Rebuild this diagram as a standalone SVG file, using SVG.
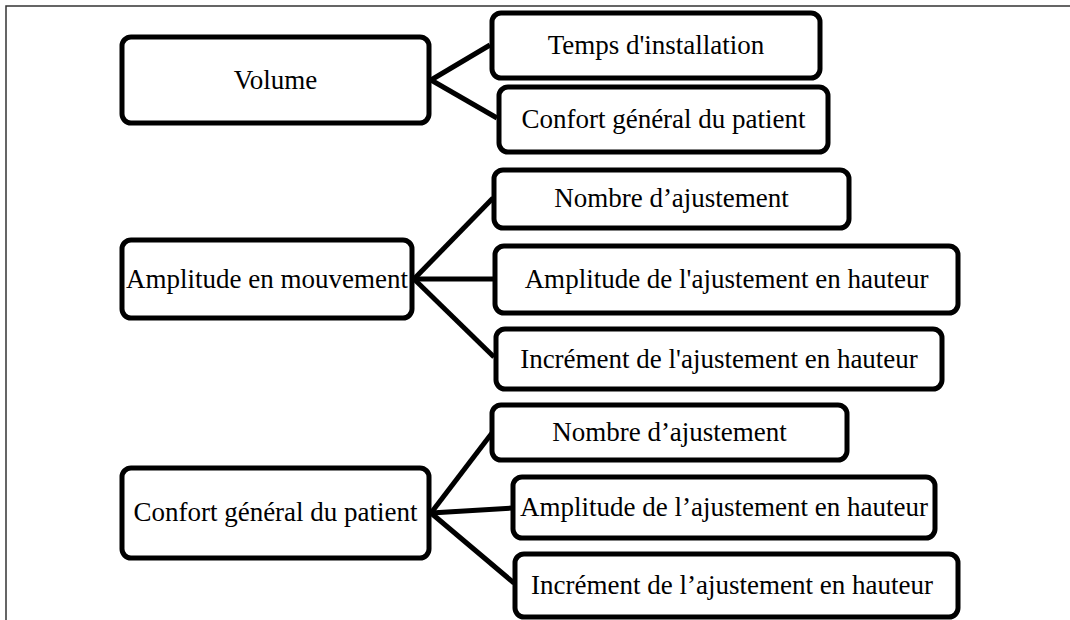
<svg xmlns="http://www.w3.org/2000/svg" width="1070" height="620" viewBox="0 0 1070 620">
<style>
.box{fill:#fff;stroke:#000;stroke-width:5}
.lbl{font-family:"Liberation Serif","Times New Roman",serif;font-size:27px;fill:#000;text-anchor:middle}
.con{stroke:#000;stroke-width:5;fill:none}
.frame{stroke:#333;stroke-width:1.5;fill:none}
</style>
<rect width="1070" height="620" fill="#fff"/>
<path class="frame" d="M6,620 V6 H1070"/>
<g id="connectors">
<line class="con" x1="431" y1="80" x2="490" y2="45"/>
<line class="con" x1="431" y1="80" x2="497" y2="118"/>
<line class="con" x1="414" y1="279" x2="493" y2="198"/>
<line class="con" x1="414" y1="279" x2="495" y2="279"/>
<line class="con" x1="414" y1="279" x2="494" y2="357"/>
<line class="con" x1="431" y1="513" x2="492" y2="433"/>
<line class="con" x1="431" y1="513" x2="513" y2="508"/>
<line class="con" x1="431" y1="513" x2="514" y2="583"/>
</g>
<g id="n-volume"><rect class="box" x="122" y="37" width="307" height="86" rx="9"/><text class="lbl" x="275.5" y="89">Volume</text></g>
<g id="n-temps"><rect class="box" x="492" y="13" width="328" height="65" rx="9"/><text class="lbl" x="656" y="54">Temps d'installation</text></g>
<g id="n-confort1"><rect class="box" x="499" y="87" width="329" height="65" rx="9"/><text class="lbl" x="663.5" y="128">Confort général du patient</text></g>
<g id="n-amplitude-mvt"><rect class="box" x="122" y="240" width="290" height="78" rx="9"/><text class="lbl" x="267" y="288">Amplitude en mouvement</text></g>
<g id="n-nombre1"><rect class="box" x="494" y="170" width="355" height="58" rx="9"/><text class="lbl" x="671.5" y="207">Nombre d’ajustement</text></g>
<g id="n-amplitude1"><rect class="box" x="495" y="246" width="463" height="67" rx="9"/><text class="lbl" x="726.5" y="288">Amplitude de l'ajustement en hauteur</text></g>
<g id="n-increment1"><rect class="box" x="496" y="329" width="446" height="60" rx="9"/><text class="lbl" x="719" y="368">Incrément de l'ajustement en hauteur</text></g>
<g id="n-confort2"><rect class="box" x="122" y="468" width="307" height="90" rx="9"/><text class="lbl" x="275.5" y="521">Confort général du patient</text></g>
<g id="n-nombre2"><rect class="box" x="492" y="405" width="355" height="55" rx="9"/><text class="lbl" x="669.5" y="441">Nombre d’ajustement</text></g>
<g id="n-amplitude2"><rect class="box" x="513" y="477" width="422" height="61" rx="9"/><text class="lbl" x="724" y="516">Amplitude de l’ajustement en hauteur</text></g>
<g id="n-increment2"><rect class="box" x="515" y="554" width="443" height="63" rx="9"/><text class="lbl" x="732" y="594">Incrément de l’ajustement en hauteur</text></g>
</svg>
